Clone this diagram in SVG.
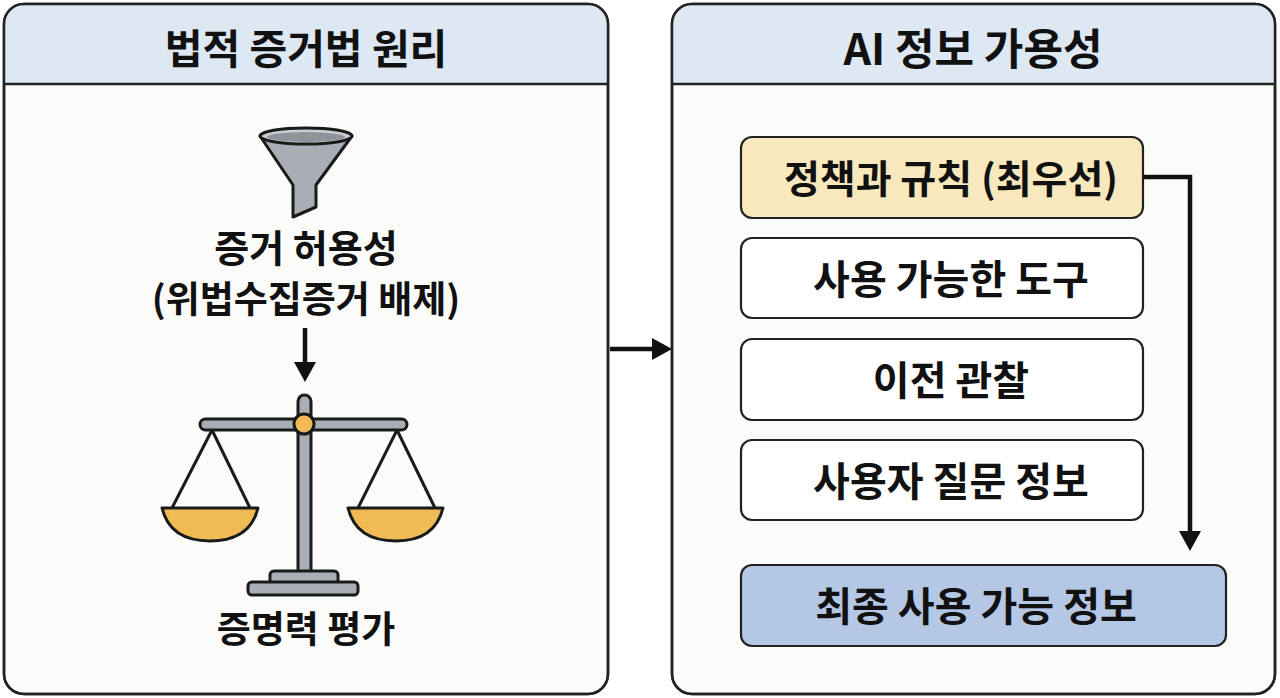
<svg xmlns="http://www.w3.org/2000/svg" width="1280" height="698" viewBox="0 0 1280 698">
<style>
.t{font-family:"Noto Sans CJK KR","Noto Sans",sans-serif;font-weight:700;fill:#111;text-anchor:middle}
.panel{fill:#fbfbf9;stroke:#222;stroke-width:2.5}
.hdr{fill:#dde8f3}
.box{stroke:#222;stroke-width:2.2}
.ic{stroke:#1a1a1a;stroke-width:3;stroke-linejoin:round}
.con{stroke:#111;stroke-width:4.5;fill:none}
</style>
<defs>
<marker id="ah" viewBox="0 0 10 10" refX="2" refY="5" markerWidth="20" markerHeight="22" preserveAspectRatio="none" orient="auto" markerUnits="userSpaceOnUse">
<path d="M0,0 L10,5 L0,10 Z" fill="#111"/>
</marker>
<clipPath id="cl"><rect x="4" y="4" width="604" height="690" rx="20"/></clipPath>
<clipPath id="cr"><rect x="672" y="4" width="603" height="690" rx="20"/></clipPath>
</defs>

<g id="left-panel">
<rect class="panel" x="4" y="4" width="604" height="690" rx="20"/>
<rect class="hdr" x="4" y="4" width="604" height="80" clip-path="url(#cl)"/>
<line x1="4" y1="84" x2="608" y2="84" stroke="#222" stroke-width="2.5"/>
<rect x="4" y="4" width="604" height="690" rx="20" fill="none" stroke="#222" stroke-width="2.5"/>
<text class="t" x="306" y="64" font-size="41">법적 증거법 원리</text>
</g>

<g id="funnel">
<path class="ic" d="M260,136 L293,185 L293,217 L316,207 L316,185 L352,136 Z" fill="#a9aeb6"/>
<ellipse class="ic" cx="306" cy="136" rx="46" ry="8" fill="#c9ccd2"/>
<ellipse cx="306" cy="137" rx="39" ry="5" fill="#8f949c"/>
</g>

<g id="admissibility">
<text class="t" x="306" y="262" font-size="38">증거 허용성</text>
<text class="t" x="306" y="313" font-size="37">(위법수집증거 배제)</text>
</g>

<g id="scale">
<line class="ic" x1="212" y1="430" x2="172" y2="508" fill="none"/>
<line class="ic" x1="212" y1="430" x2="250" y2="508" fill="none"/>
<line class="ic" x1="397" y1="430" x2="358" y2="508" fill="none"/>
<line class="ic" x1="397" y1="430" x2="435" y2="508" fill="none"/>
<path class="ic" d="M162,508 L258,508 Q250,541 210,541 Q170,541 162,508 Z" fill="#f0bb55"/>
<path class="ic" d="M348,508 L443,508 Q435,541 396,541 Q356,541 348,508 Z" fill="#f0bb55"/>
<rect class="ic" x="298" y="395" width="13" height="182" rx="6.5" fill="#a9aeb6"/>
<rect class="ic" x="200" y="419" width="207" height="11" rx="5.5" fill="#a9aeb6"/>
<circle class="ic" cx="304" cy="424" r="10" fill="#f0bb55"/>
<rect class="ic" x="270" y="571" width="68" height="13" rx="4" fill="#a9aeb6"/>
<rect class="ic" x="248" y="582" width="110" height="13" rx="4" fill="#a9aeb6"/>
</g>

<g id="probative">
<text class="t" x="306" y="643" font-size="37">증명력 평가</text>
</g>

<g id="right-panel">
<rect class="panel" x="672" y="4" width="603" height="690" rx="20"/>
<rect class="hdr" x="672" y="4" width="603" height="80" clip-path="url(#cr)"/>
<line x1="672" y1="84" x2="1275" y2="84" stroke="#222" stroke-width="2.5"/>
<rect x="672" y="4" width="603" height="690" rx="20" fill="none" stroke="#222" stroke-width="2.5"/>
<text class="t" x="973" y="65" font-size="43">AI 정보 가용성</text>
</g>

<g id="box-policy">
<rect class="box" x="741" y="137" width="402" height="81" rx="11" fill="#f8e8bd"/>
<text class="t" x="951" y="193" font-size="39">정책과 규칙 (최우선)</text>
</g>
<g id="box-tools">
<rect class="box" x="741" y="238" width="402" height="80" rx="11" fill="#ffffff"/>
<text class="t" x="951" y="294" font-size="40">사용 가능한 도구</text>
</g>
<g id="box-obs">
<rect class="box" x="741" y="339" width="402" height="81" rx="11" fill="#ffffff"/>
<text class="t" x="951" y="395" font-size="40">이전 관찰</text>
</g>
<g id="box-user">
<rect class="box" x="741" y="440" width="402" height="80" rx="11" fill="#ffffff"/>
<text class="t" x="951" y="496" font-size="40">사용자 질문 정보</text>
</g>
<g id="box-final">
<rect class="box" x="741" y="565" width="485" height="81" rx="11" fill="#b4c7e4"/>
<text class="t" x="976" y="621" font-size="40">최종 사용 가능 정보</text>
</g>

<g id="connectors">
<line class="con" x1="305" y1="328" x2="305" y2="366" marker-end="url(#ah)"/>
<line class="con" x1="610" y1="349" x2="656" y2="349" marker-end="url(#ah)"/>
<polyline class="con" points="1143,177 1190,177 1190,535" marker-end="url(#ah)"/>
</g>
</svg>
